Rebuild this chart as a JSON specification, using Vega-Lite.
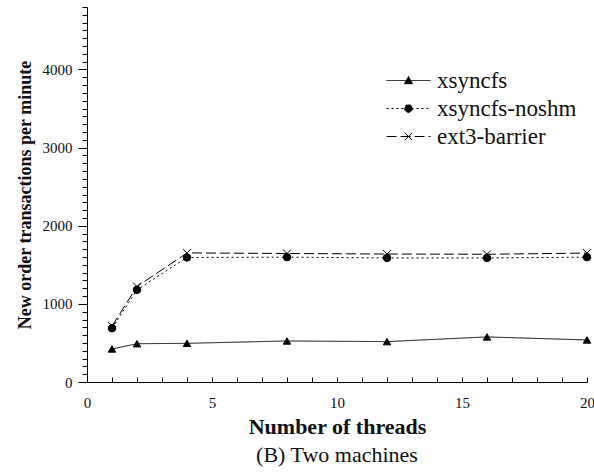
{
  "$schema": "https://vega.github.io/schema/vega-lite/v6.json",
  "width": 500,
  "height": 375,
  "autosize": "none",
  "padding": {"left": 87, "top": 7, "right": 7, "bottom": 92},
  "background": "white",
  "config": {
    "view": {"stroke": null},
    "font": "Liberation Serif",
    "axis": {"labelFont": "Liberation Serif", "titleFont": "Liberation Serif"},
    "legend": {"labelFont": "Liberation Serif", "titleFont": "Liberation Serif"}
  },
  "title": {"text": "(B) Two machines", "orient": "bottom", "font": "Liberation Serif", "fontSize": 22, "fontWeight": "normal", "color": "#111", "offset": 8},
  "data": {"values": [
    {"threads": 1, "tpm": 423, "series": "xsyncfs"},
    {"threads": 2, "tpm": 490, "series": "xsyncfs"},
    {"threads": 4, "tpm": 495, "series": "xsyncfs"},
    {"threads": 8, "tpm": 525, "series": "xsyncfs"},
    {"threads": 12, "tpm": 517, "series": "xsyncfs"},
    {"threads": 16, "tpm": 577, "series": "xsyncfs"},
    {"threads": 20, "tpm": 538, "series": "xsyncfs"},
    {"threads": 1, "tpm": 688, "series": "xsyncfs-noshm"},
    {"threads": 2, "tpm": 1180, "series": "xsyncfs-noshm"},
    {"threads": 4, "tpm": 1594, "series": "xsyncfs-noshm"},
    {"threads": 8, "tpm": 1598, "series": "xsyncfs-noshm"},
    {"threads": 12, "tpm": 1588, "series": "xsyncfs-noshm"},
    {"threads": 16, "tpm": 1588, "series": "xsyncfs-noshm"},
    {"threads": 20, "tpm": 1598, "series": "xsyncfs-noshm"},
    {"threads": 1, "tpm": 715, "series": "ext3-barrier"},
    {"threads": 2, "tpm": 1222, "series": "ext3-barrier"},
    {"threads": 4, "tpm": 1652, "series": "ext3-barrier"},
    {"threads": 8, "tpm": 1645, "series": "ext3-barrier"},
    {"threads": 12, "tpm": 1638, "series": "ext3-barrier"},
    {"threads": 16, "tpm": 1635, "series": "ext3-barrier"},
    {"threads": 20, "tpm": 1650, "series": "ext3-barrier"}
  ]},
  "encoding": {
    "x": {
      "field": "threads", "type": "quantitative",
      "scale": {"domain": [0, 20], "nice": false, "zero": false},
      "axis": {
        "title": "Number of threads",
        "values": [0,1,2,3,4,5,6,7,8,9,10,11,12,13,14,15,16,17,18,19,20],
        "labelExpr": "datum.value % 5 === 0 ? datum.label : ''",
        "labelOverlap": false, "labelFlush": false,
        "grid": false, "tickSize": -5, "labelPadding": 18,
        "domainColor": "black", "tickColor": "black", "tickWidth": 1, "domainWidth": 1,
        "labelFont": "Liberation Serif", "labelFontSize": 15, "labelColor": "#111",
        "titleFont": "Liberation Serif", "titleFontSize": 22, "titleFontWeight": "bold", "titleColor": "#111", "titlePadding": 6
      }
    },
    "y": {
      "field": "tpm", "type": "quantitative",
      "scale": {"domain": [0, 4800], "nice": false},
      "axis": {
        "title": "New order transactions per minute",
        "format": "d",
        "values": [0,100,200,300,400,500,600,700,800,900,1000,1100,1200,1300,1400,1500,1600,1700,1800,1900,2000,2100,2200,2300,2400,2500,2600,2700,2800,2900,3000,3100,3200,3300,3400,3500,3600,3700,3800,3900,4000,4100,4200,4300,4400,4500,4600,4700,4800],
        "labelExpr": "datum.value % 1000 === 0 ? datum.label : ''",
        "labelOverlap": false, "labelFlush": false,
        "grid": false,
        "tickSize": {"condition": {"test": "datum.value % 1000 === 0", "value": 9}, "value": 5},
        "labelPadding": 6,
        "domainColor": "black", "tickColor": "black", "tickWidth": 1, "domainWidth": 1,
        "labelFont": "Liberation Serif", "labelFontSize": 15, "labelColor": "#111",
        "titleFont": "Liberation Serif", "titleFontSize": 18, "titleFontWeight": "bold", "titleColor": "#111", "titlePadding": 8
      }
    }
  },
  "layer": [
    {
      "mark": {"type": "line", "color": "black", "strokeWidth": 1},
      "encoding": {
        "strokeDash": {
          "field": "series", "type": "nominal",
          "scale": {"domain": ["xsyncfs", "xsyncfs-noshm", "ext3-barrier"], "range": [[1, 0], [2, 3], [10, 4]]},
          "legend": {
            "orient": "none", "legendX": 310, "legendY": 62, "title": null,
            "labelFont": "Liberation Serif", "labelFontSize": 23, "labelColor": "#111",
            "labelOffset": 17, "rowPadding": 4,
            "symbolSize": 64, "symbolStrokeWidth": 1, "symbolStrokeColor": "black", "symbolFillColor": "black",
            "symbolType": "M-5.5,0L5.5,0",
            "encode": {"symbols": {"update": {
              "shape": {"signal": "datum.value === 'xsyncfs' ? 'M-5.5,0L5.5,0M-1,0.8L0,-1L1,0.8Z' : datum.value === 'xsyncfs-noshm' ? 'M-5.5,0L5.5,0M-1,0A1,1 0 1,0 1,0A1,1 0 1,0 -1,0Z' : 'M-5.5,0L5.5,0M-0.9,-0.9L0.9,0.9M-0.9,0.9L0.9,-0.9'"},
              "fill": {"value": "black"},
              "stroke": {"value": "black"}
            }}}
          }
        }
      }
    },
    {
      "transform": [{"filter": "datum.series === 'xsyncfs'"}],
      "mark": {"type": "point", "shape": "triangle-up", "filled": true, "fill": "black", "stroke": "black", "strokeWidth": 1, "opacity": 1, "size": 55}
    },
    {
      "transform": [{"filter": "datum.series === 'xsyncfs-noshm'"}],
      "mark": {"type": "point", "shape": "circle", "filled": true, "fill": "black", "stroke": "black", "strokeWidth": 1, "opacity": 1, "size": 55}
    },
    {
      "transform": [{"filter": "datum.series === 'ext3-barrier'"}],
      "mark": {"type": "point", "shape": "M-1,-1L1,1M-1,1L1,-1", "filled": true, "fill": "black", "stroke": "black", "strokeWidth": 1, "opacity": 1, "size": 64}
    }
  ]
}
